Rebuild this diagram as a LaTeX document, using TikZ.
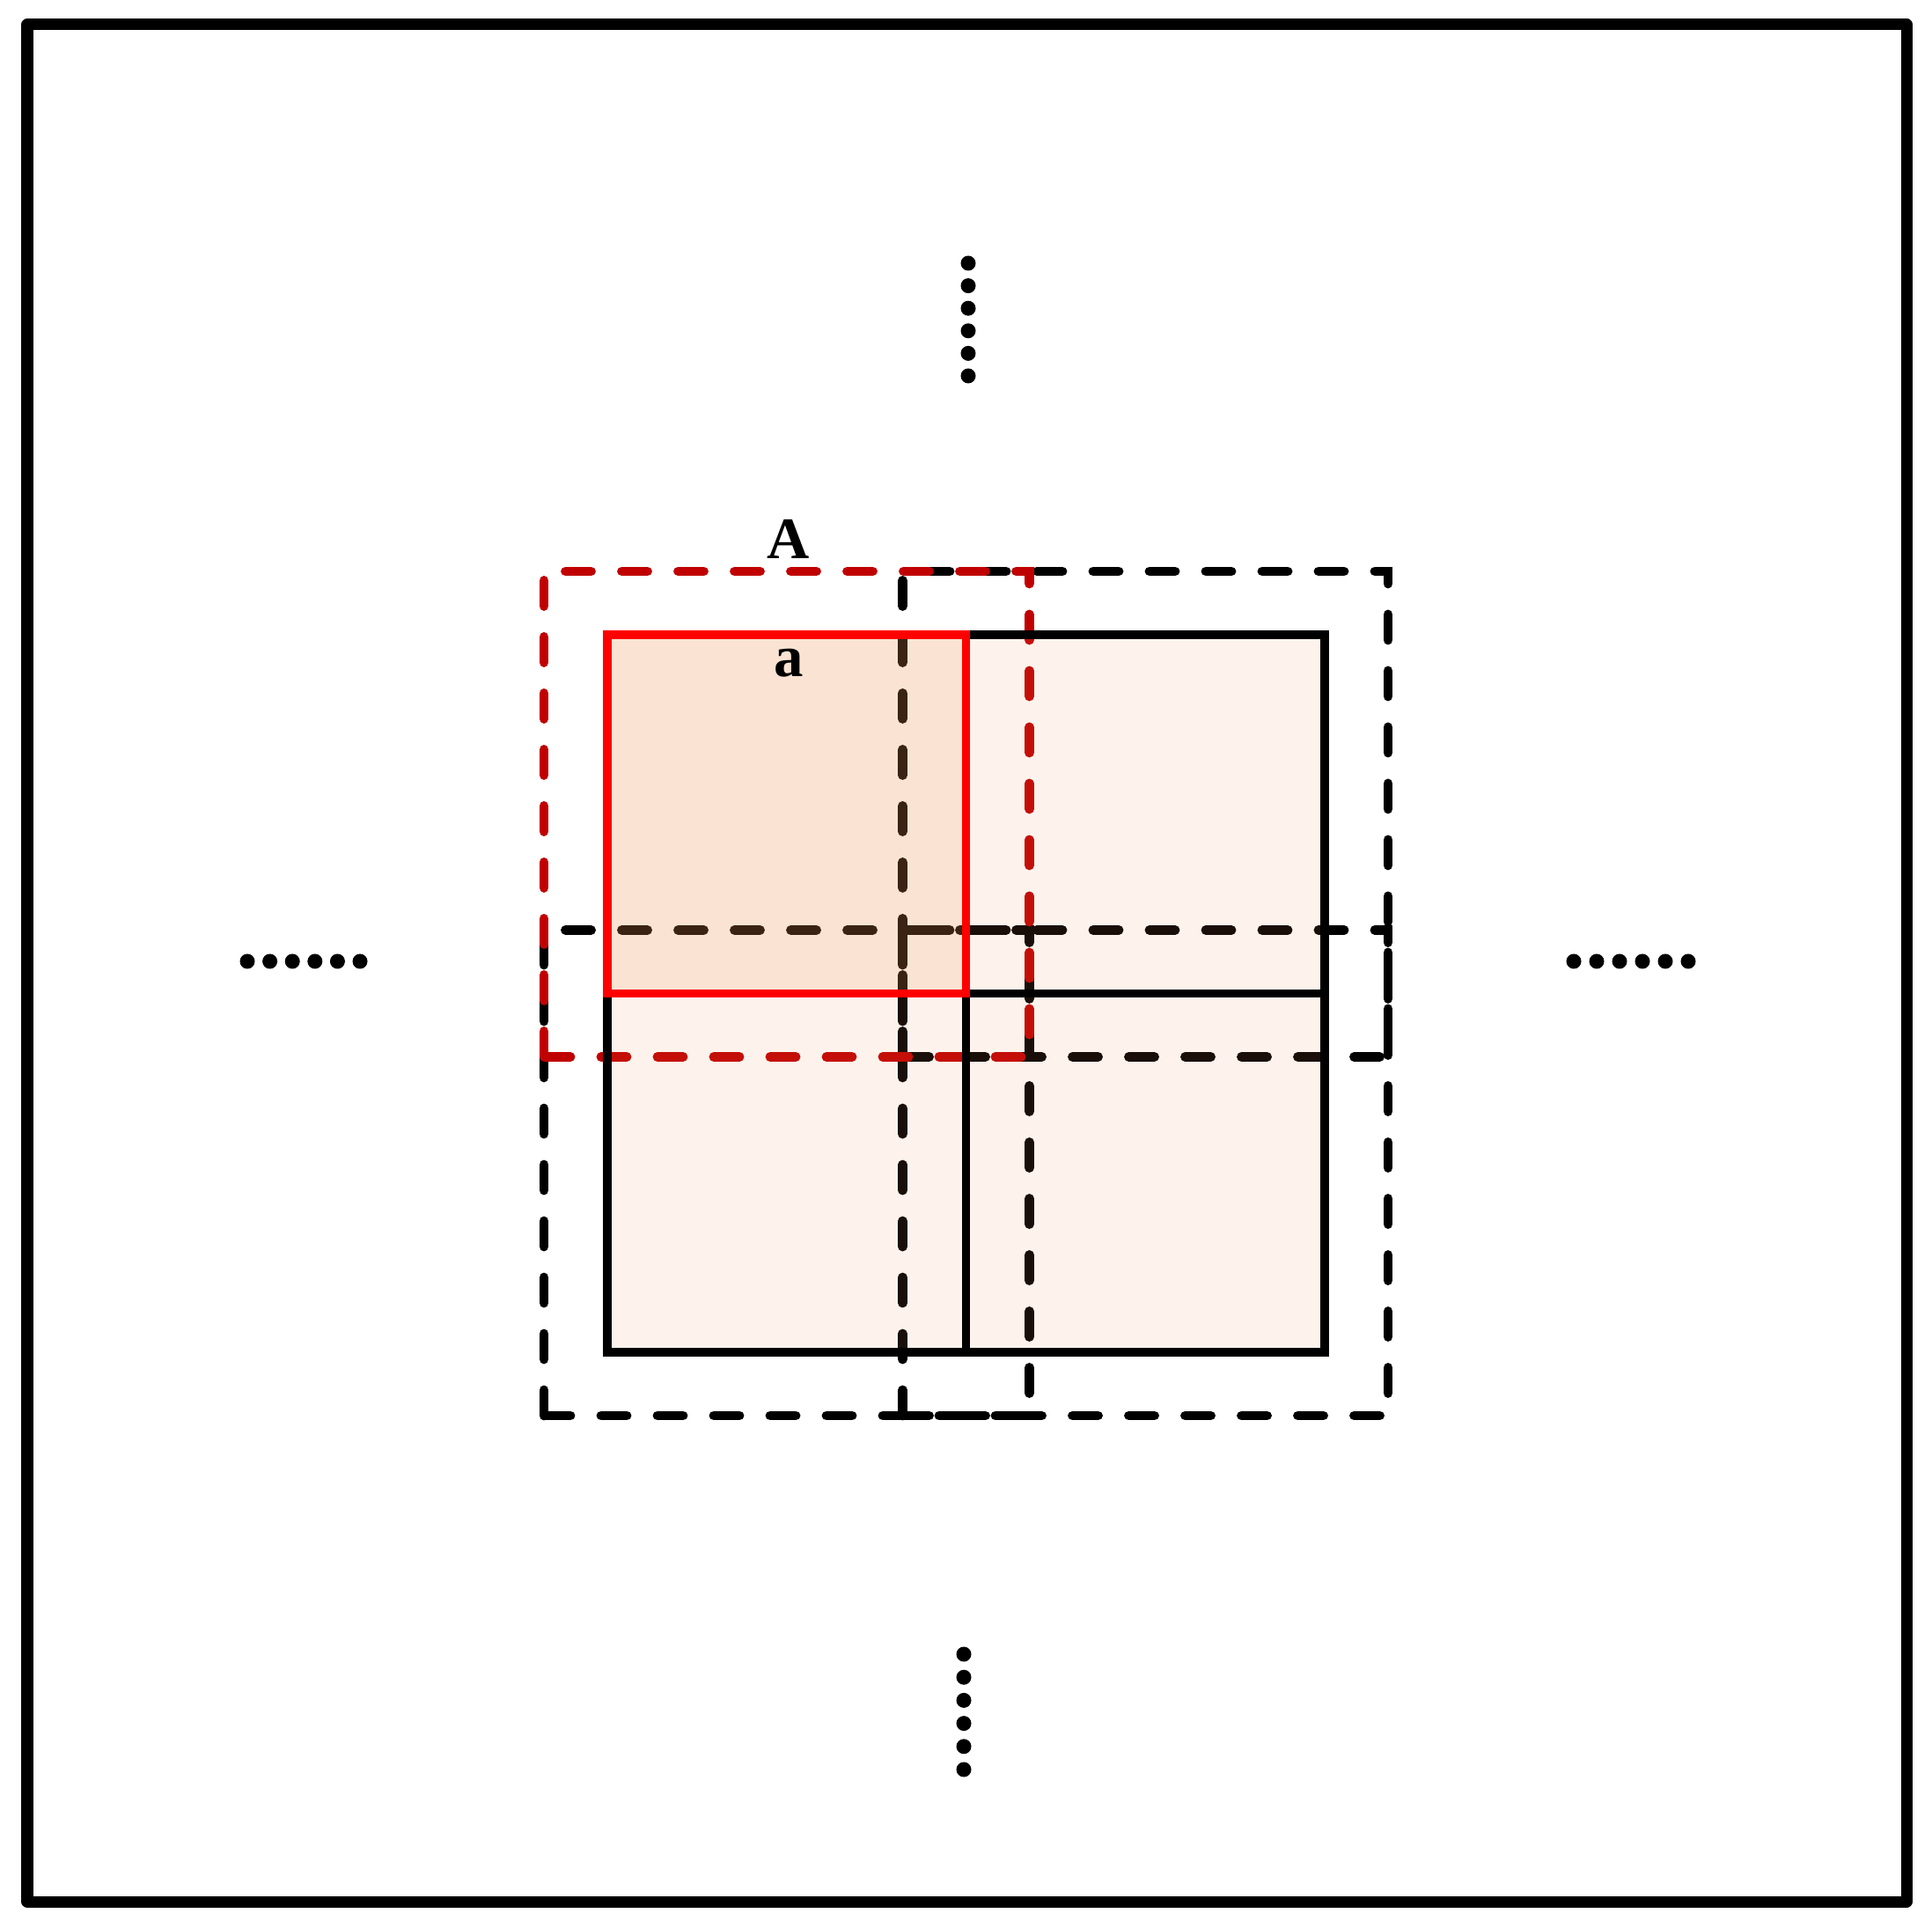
\documentclass[tikz,border=0pt]{standalone}
\usepackage{fontspec}
\setmainfont{Liberation Serif}
\usetikzlibrary{positioning}

\definecolor{darkred}{RGB}{192,0,0}
\definecolor{peach}{RGB}{234,142,78}

\tikzset{
  frame/.style={line width=3.7pt, line join=round},
  cellline/.style={line width=2.6pt},
  window/.style={line width=3.1pt, line cap=round, dash pattern=on 0.29cm off 0.35cm},
  dotmark/.style={fill=black},
  lbl/.style={inner sep=0pt, font=\fontsize{19}{23}\selectfont\bfseries},
}

\def\s{4.075}
\def\d{0.72}

\begin{document}
\begin{tikzpicture}
    \useasboundingbox (0,0) rectangle (21.95,21.89);
    \draw[frame] (0.31,0.29) rectangle (21.66,21.61);

    % dashed windows
    \foreach \i/\j in {0/0,1/0,1/1}
      \draw[window] ({6.90+\i*\s-\d},{6.53+\j*\s-\d}) rectangle ++({\s+2*\d},{\s+2*\d});
    \draw[window, darkred] ({6.90-\d},{6.53+\s-\d}) rectangle ++({\s+2*\d},{\s+2*\d});

    % blocks
    \foreach \i/\j in {0/0,1/0,1/1}
      \fill[peach, opacity=0.11] ({6.90+\i*\s},{6.53+\j*\s}) rectangle ++(\s,\s);
    \fill[peach, opacity=0.25] (6.90,{6.53+\s}) rectangle ++(\s,\s);
    \draw[cellline] (6.90,6.53) rectangle ++({2*\s},{2*\s});
    \draw[cellline] ({6.90+\s},6.53) -- ++(0,{2*\s});
    \draw[cellline] (6.90,{6.53+\s}) -- ++({2*\s},0);
    \draw[cellline, red] (6.90,{6.53+\s}) rectangle ++(\s,\s);

    \node[lbl] (A) at (8.96,15.77) {A};
    \node[lbl] (a) at (8.96,14.36) {a};

    % dots
    \foreach \k in {0,...,5} {
      \fill[dotmark] (11.00,{17.62+\k*0.256}) circle (0.085);
      \fill[dotmark] (10.95,{1.79+\k*0.262}) circle (0.085);
      \fill[dotmark] ({2.81+\k*0.256},10.97) circle (0.085);
      \fill[dotmark] ({17.88+\k*0.26},10.97) circle (0.085);
    }
\end{tikzpicture}
\end{document}
